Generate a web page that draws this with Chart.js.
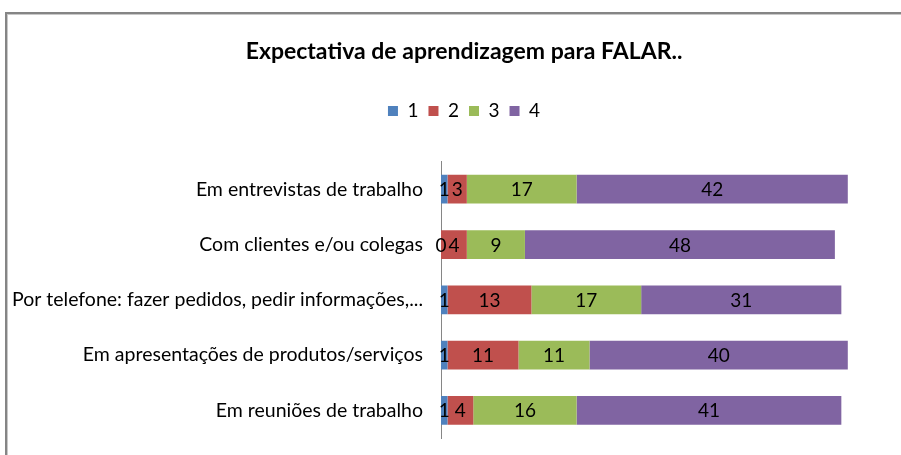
<!DOCTYPE html>
<html>
<head>
<meta charset="utf-8">
<script src="https://cdn.jsdelivr.net/npm/chart.js@4"></script>
<style>
    html, body { margin: 0; padding: 0; background: #fff; overflow: hidden; }
    #frame {
        position: absolute; left: 5px; top: 12px; width: 1000px; height: 1000px;
        border-top: 2px solid #858585; border-left: 2px solid #858585;
        box-shadow: inset 1px 1px 0 #c8c8c8;
    }
    #wrap { position: absolute; left: 0; top: 0; width: 901px; height: 455px; }
</style>
</head>
<body>
<div id="frame"></div>
<div id="wrap"><canvas id="chart" width="901" height="455"></canvas></div>
<script>
const categories = [
    "Em entrevistas de trabalho",
    "Com clientes e/ou colegas",
    "Por telefone: fazer pedidos, pedir informações,...",
    "Em apresentações de produtos/serviços",
    "Em reuniões de trabalho"
];
const seriesNames = ["1", "2", "3", "4"];
const values1 = [1, 0, 1, 1, 1];
const values2 = [3, 4, 13, 11, 4];
const values3 = [17, 9, 17, 11, 16];
const values4 = [42, 48, 31, 40, 41];
const colors = ["#4F81BD", "#C0504D", "#9BBB59", "#8064A2"];

const FONT = "Lato";

// draws the number in the middle of each segment
const barLabels = {
    id: "barLabels",
    afterDatasetsDraw(chart) {
        const ctx = chart.ctx;
        ctx.save();
        ctx.font = `19px ${FONT}`;
        ctx.fillStyle = "#000";
        ctx.textAlign = "center";
        ctx.textBaseline = "middle";
        chart.data.datasets.forEach((ds, i) => {
            const meta = chart.getDatasetMeta(i);
            meta.data.forEach((bar, j) => {
                const cx = (bar.x + bar.base) / 2;
                ctx.fillText(String(ds.data[j]), cx, bar.y + 1);
            });
        });
        ctx.restore();
    }
};

// extra room under the legend, and don't clip the long category label
const layoutTweaks = {
    id: "layoutTweaks",
    beforeInit(chart) {
        const fit = chart.legend.fit;
        chart.legend.fit = function () {
            fit.call(this);
            this.height += 31;
        };
    },
    afterLayout(chart) {
        chart.scales.y.left = 0;
    }
};

const allValues = [values1, values2, values3, values4];

new Chart(document.getElementById("chart"), {
    type: "bar",
    data: {
        labels: categories,
        datasets: allValues.map((vals, i) => ({
            label: seriesNames[i],
            data: vals,
            backgroundColor: colors[i],
            borderWidth: 0,
            categoryPercentage: 1,
            barPercentage: 0.52,
        })),
    },
    options: {
        indexAxis: "y",
        responsive: false,
        animation: false,
        layout: { padding: { left: 35, right: 8, top: 38, bottom: 17 } },
        plugins: {
            title: {
                display: true,
                text: "Expectativa de aprendizagem para FALAR..",
                color: "#000",
                font: { family: FONT, size: 23, weight: "bold" },
                padding: { top: 0, bottom: 26 },
            },
            legend: {
                display: true,
                position: "top",
                labels: {
                    color: "#000",
                    font: { family: FONT, size: 19 },
                    boxWidth: 10,
                    boxHeight: 10,
                    padding: 10,
                },
            },
            tooltip: { enabled: false },
        },
        scales: {
            x: {
                stacked: true,
                min: 0,
                max: 70,
                display: false,
            },
            y: {
                stacked: true,
                grid: { display: false },
                border: { display: true, color: "#868686", width: 1 },
                ticks: {
                    color: "#000",
                    font: { family: FONT, size: 19.5 },
                    padding: 10,
                },
                afterFit(scale) {
                    scale.width = 406;
                    scale.paddingTop = 0;
                    scale.paddingBottom = 0;
                },
            },
        },
    },
    plugins: [barLabels, layoutTweaks],
});
</script>
</body>
</html>
